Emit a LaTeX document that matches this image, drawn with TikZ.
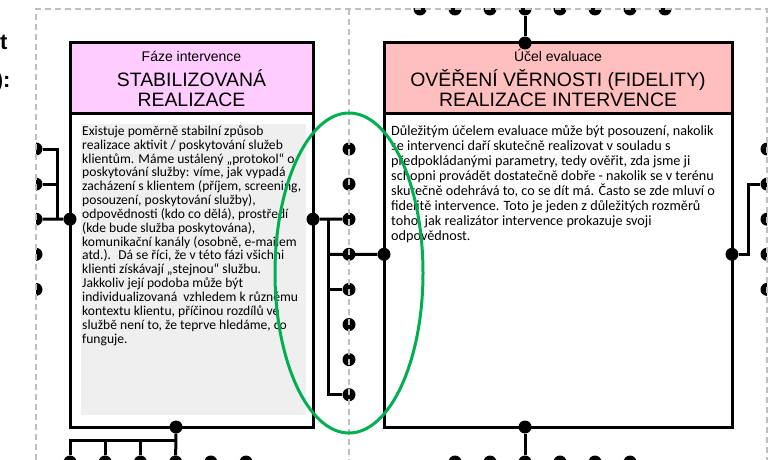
\documentclass[tikz,border=0pt]{standalone}
\usepackage{fontspec}
\setmainfont{Carlito}
\newfontfamily\headfont{Liberation Sans}
\usetikzlibrary{arrows,shapes.geometric}

\definecolor{phasepink}{RGB}{255,204,255}
\definecolor{aimpink}{RGB}{255,191,191}
\definecolor{textgray}{RGB}{239,239,239}
\definecolor{framegray}{RGB}{191,191,191}
\definecolor{loopgreen}{RGB}{0,176,80}

\begin{document}
\begin{tikzpicture}[x=1pt,y=-1pt,
    frame/.style={draw=framegray,line width=1.5pt,dash pattern=on 6pt off 4pt},
    box/.style={draw,line width=3pt,rectangle,inner sep=0pt,outer sep=0pt,anchor=north west},
    wire/.style={line width=3pt},
    dot/.style={circle,fill,inner sep=0pt,minimum size=13pt},
    small/.style={font=\headfont\fontsize{14}{16}\selectfont,anchor=base},
    big/.style={font=\headfont\fontsize{19.4}{20}\selectfont,anchor=base},
    body/.style={align=left,anchor=north west,inner sep=0pt}]
    \useasboundingbox (0,0) rectangle (773,460);
    \clip (0,0) rectangle (773,460);

    % cut off text on the left
    \node[font=\headfont\bfseries\fontsize{22}{24}\selectfont,anchor=base east] (cutt) at (11,50) {t};
    \node[font=\headfont\bfseries\fontsize{22}{24}\selectfont,anchor=base east] (cutcolon) at (14,87) {):};

    % phase box
    \node[box,fill=phasepink,minimum width=243pt,minimum height=70pt] (lhead) at (70,43) {};
    \node[box,minimum width=243pt,minimum height=314pt] (lbody) at (70,113) {};
    \fill[textgray] (81,124) rectangle (306,415);
    \node[small] (lphase) at (191.5,62) {Fáze intervence};
    \node[big] (ltitle) at (191.5,86) {STABILIZOVANÁ};
    \node[big] (ltitle2) at (191.5,106) {REALIZACE};
    \node[body,font=\fontsize{13.6}{13.85}\selectfont] (ltext) at (82,125.5) {Existuje poměrně stabilní způsob\\
      realizace aktivit / poskytování služeb\\
      klientům. Máme ustálený „protokol“ o\\
      poskytování služby: víme, jak vypadá\\
      zacházení s klientem (příjem, screening,\\
      posouzení, poskytování služby),\\
      odpovědnosti (kdo co dělá), prostředí\\
      (kde bude služba poskytována),\\
      komunikační kanály (osobně, e-mailem\\
      atd.). \ Dá se říci, že v této fázi všichni\\
      klienti získávají „stejnou“ službu.\\
      Jakkoliv její podoba může být\\
      individualizovaná \ vzhledem k různému\\
      kontextu klientu, příčinou rozdílů ve\\
      službě není to, že teprve hledáme, co\\
      funguje.};

    % aim box
    \node[box,fill=aimpink,minimum width=348pt,minimum height=70pt] (rhead) at (384,43) {};
    \node[box,minimum width=348pt,minimum height=314pt] (rbody) at (384,113) {};
    \node[small] (raim) at (558,62) {Účel evaluace};
    \node[big] (rtitle) at (558,86) {OVĚŘENÍ VĚRNOSTI (FIDELITY)};
    \node[big] (rtitle2) at (558,106) {REALIZACE INTERVENCE};
    \node[body,font=\fontsize{14.2}{15}\selectfont] (rtext) at (391,125.5) {Důležitým účelem evaluace může být posouzení, nakolik\\
      se intervenci daří skutečně realizovat v souladu s\\
      předpokládanými parametry, tedy ověřit, zda jsme ji\\
      schopni provádět dostatečně dobře - nakolik se v terénu\\
      skutečně odehrává to, co se dít má. Často se zde mluví o\\
      fidelitě intervence. Toto je jeden z důležitých rozměrů\\
      toho, jak realizátor intervence prokazuje svoji\\
      odpovědnost.};

    % half dots on the frame
    \begin{scope}
      \clip (36,0) rectangle (300,460);
      \foreach \i in {1,...,5} \node[dot] (hl\i) at (36,{149+35.1*(\i-1)}) {};
    \end{scope}
    \begin{scope}
      \clip (700,0) rectangle (767,460);
      \foreach \i in {1,...,5} \node[dot] (hr\i) at (767,{149+35.1*(\i-1)}) {};
    \end{scope}
    \begin{scope}
      \clip (400,9) rectangle (773,40);
      \foreach \i in {1,...,8} \node[dot] (ht\i) at ({420+35*(\i-1)},9) {};
    \end{scope}
    \foreach \i in {1,...,8} \node[dot] (m\i) at (349,{149+35.1*(\i-1)}) {};
    \foreach \i in {1,...,6} \node[dot] (bl\i) at ({70+35.2*(\i-1)},462) {};
    \foreach \i in {1,...,6} \node[dot] (br\i) at ({455+35*(\i-1)},462) {};

    % dots on the boxes
    \node[dot] (lw) at (70,219.2) {};
    \node[dot] (le) at (313,219.2) {};
    \node[dot] (ls) at (176,427) {};
    \node[dot] (rn) at (525,43) {};
    \node[dot] (rw) at (384,254.3) {};
    \node[dot] (re) at (732,254.3) {};
    \node[dot] (rs) at (525,427) {};
    \coordinate (lbus) at (57,219.2);
    \coordinate (mbus) at (328,219.2);
    \coordinate (rkink) at (748,184.1);
    \coordinate (lbar) at (176,440);

    \draw[wire] (lw) -- (hl3);
    \draw[wire] (hl1) -| (lbus);
    \draw[wire] (hl2) -- (hl2 -| lbus);
    \draw[wire] (le) -- (m3);
    \draw[wire] (mbus) |- (m8);
    \draw[wire] (m4 -| mbus) -- (rw);
    \draw[wire] (m5 -| mbus) -- (m5);
    \draw[wire] (re) -| (rkink) -- (hr2);
    \draw[wire] (rn) -- (ht4);
    \draw[wire] (rs) -- (br3);
    \draw[wire] (ls) -- (bl4);
    \draw[wire] (bl1) |- (lbar);
    \foreach \i in {2,3} \draw[wire] (bl\i) -- (bl\i |- lbar);

    % dashed frame
    \draw[frame] (36,470) -- (36,9) -- (767,9) -- (767,470);
    \draw[frame] (349,9) -- (349,470);

    \node[draw=loopgreen,line width=3pt,ellipse,minimum width=148pt,minimum height=320pt,inner sep=0pt] (focus) at (349,273) {};
\end{tikzpicture}
\end{document}
